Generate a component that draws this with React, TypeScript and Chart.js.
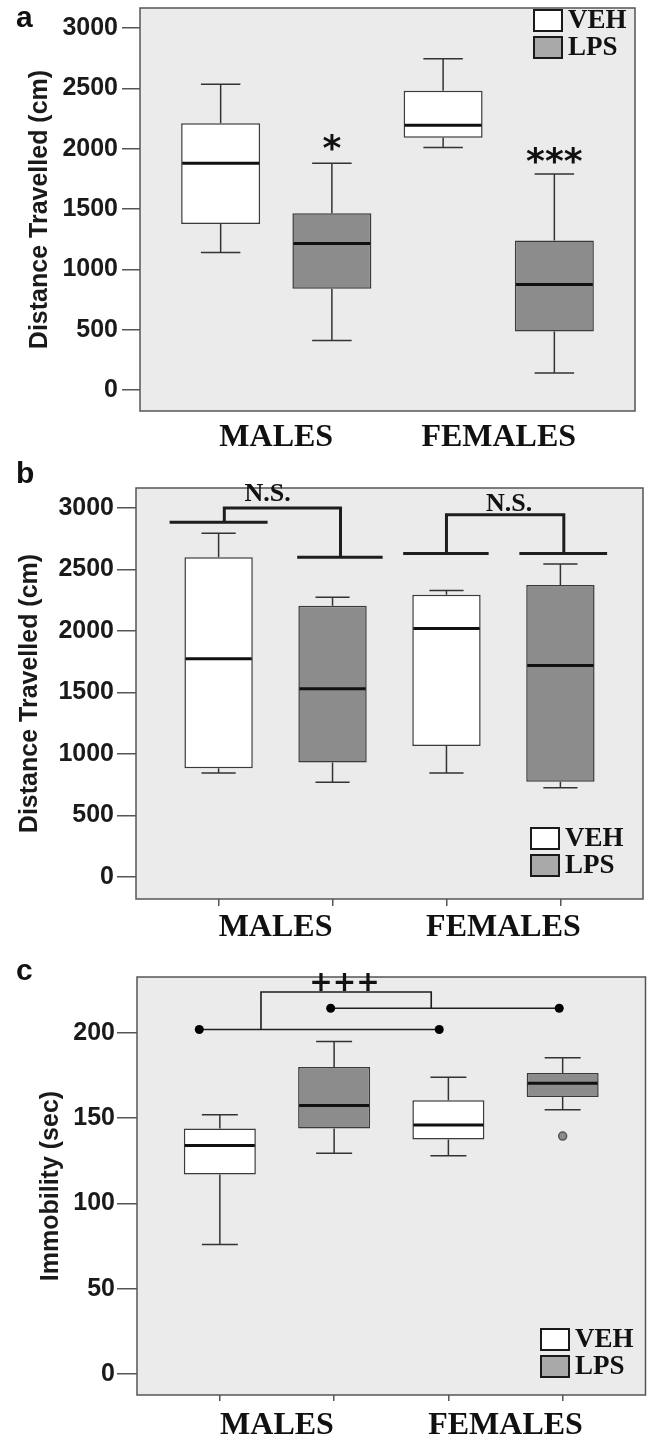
import React, { useEffect, useRef } from "react";
import { Chart, registerables } from "chart.js";

Chart.register(...registerables);

// ---------- shared categories ----------
const groups = ["MALES", "FEMALES"];
const seriesNames = ["VEH", "LPS"];

// ---------- panel a: distance travelled (cm) ----------
const aVehMin = [1140, 2010];
const aVehQ1 = [1375, 2090];
const aVehMedian = [1880, 2195];
const aVehQ3 = [2210, 2480];
const aVehMax = [2535, 2745];
const aLpsMin = [410, 140];
const aLpsQ1 = [840, 485];
const aLpsMedian = [1215, 875];
const aLpsQ3 = [1465, 1240];
const aLpsMax = [1880, 1790];
const aTicks = [0, 500, 1000, 1500, 2000, 2500, 3000];

// ---------- panel b: distance travelled (cm) ----------
const bVehMin = [845, 845];
const bVehQ1 = [885, 1065];
const bVehMedian = [1775, 2020];
const bVehQ3 = [2600, 2295];
const bVehMax = [2795, 2330];
const bLpsMin = [770, 725];
const bLpsQ1 = [930, 775];
const bLpsMedian = [1530, 1720];
const bLpsQ3 = [2205, 2375];
const bLpsMax = [2275, 2545];
const bTicks = [0, 500, 1000, 1500, 2000, 2500, 3000];

// ---------- panel c: immobility (sec) ----------
const cVehMin = [76, 128];
const cVehQ1 = [117, 137.5];
const cVehMedian = [134, 146];
const cVehQ3 = [144, 160.5];
const cVehMax = [152, 174];
const cLpsMin = [129.5, 155];
const cLpsQ1 = [144, 162.5];
const cLpsMedian = [157.5, 170.5];
const cLpsQ3 = [180, 176.5];
const cLpsMax = [195, 185.5];
const cLpsOutliers = [[], [139.5]];
const cTicks = [0, 50, 100, 150, 200];

// significance markers (x in box-slot units 1..4, y in data units)
const bBracketMales: [number, number][][] = [
  [[0.57, 2885], [1.43, 2885]],
  [[1.05, 2885], [1.05, 3000], [2.07, 3000], [2.07, 2600]],
  [[1.69, 2600], [2.44, 2600]],
];
const bBracketFemales: [number, number][][] = [
  [[2.62, 2630], [3.37, 2630]],
  [[3.0, 2630], [3.0, 2945], [4.03, 2945], [4.03, 2630]],
  [[3.64, 2630], [4.41, 2630]],
];
const cCompareVeh: [number, number][] = [[0.82, 202], [2.92, 202]];
const cCompareLps: [number, number][] = [[1.97, 214.5], [3.97, 214.5]];
const cBracket: [number, number][] = [[1.36, 202], [1.36, 224], [2.85, 224], [2.85, 214.5]];

type Stats = { min: number[]; q1: number[]; median: number[]; q3: number[]; max: number[] };
type Path = { pts: [number, number][]; width: number; dots: boolean };
type Note = { text: string; x: number; y: number; font: string };

interface PanelSpec {
  letter: string;
  letterBaseline: number;
  top: number;
  height: number;
  chartLeft: number;
  chartTopPad: number;
  rightPad: number;
  xTickLen: number;
  labelAxisHeight: number;
  labelPad: number;
  yTitle: string;
  titlePad: number;
  yTickLen: number;
  yTickPad: number;
  yMin: number;
  yMax: number;
  yTicks: number[];
  boxPct: number;
  veh: Stats;
  lps: Stats;
  lpsOutliers: number[][];
  paths: Path[];
  notes: Note[];
  legendX: number;
  legendY: number;
}

const SLOT_MIN = 0.275;
const SLOT_MAX = 4.725;
const slotOf = (g: number, s: number) => g * 2 + s + 1;

const starFont = 'bold 36px "DejaVu Sans"';
const nsFont = 'bold 26px "Liberation Serif"';
const plusFont = 'bold 28px "DejaVu Sans"';

const panels: PanelSpec[] = [
  {
    letter: "a", letterBaseline: 27, top: 0, height: 462,
    chartLeft: 140, chartTopPad: 8, rightPad: 16, xTickLen: 0, labelAxisHeight: 51, labelPad: 8,
    yTitle: "Distance Travelled (cm)", titlePad: 25, yTickLen: 18, yTickPad: 4,
    yMin: -174, yMax: 3166, yTicks: aTicks, boxPct: 0.71,
    veh: { min: aVehMin, q1: aVehQ1, median: aVehMedian, q3: aVehQ3, max: aVehMax },
    lps: { min: aLpsMin, q1: aLpsQ1, median: aLpsMedian, q3: aLpsQ3, max: aLpsMax },
    lpsOutliers: [[], []],
    paths: [],
    notes: [
      { text: "*", x: 2, y: 1985, font: starFont },
      { text: "***", x: 4, y: 1873, font: starFont },
    ],
    legendX: 534, legendY: 10,
  },
  {
    letter: "b", letterBaseline: 23, top: 460, height: 490,
    chartLeft: 136, chartTopPad: 28, rightPad: 8, xTickLen: 7, labelAxisHeight: 44, labelPad: 3,
    yTitle: "Distance Travelled (cm)", titlePad: 15, yTickLen: 19, yTickPad: 3,
    yMin: -179, yMax: 3163, yTicks: bTicks, boxPct: 0.6,
    veh: { min: bVehMin, q1: bVehQ1, median: bVehMedian, q3: bVehQ3, max: bVehMax },
    lps: { min: bLpsMin, q1: bLpsQ1, median: bLpsMedian, q3: bLpsQ3, max: bLpsMax },
    lpsOutliers: [[], []],
    paths: [...bBracketMales, ...bBracketFemales].map((pts) => ({ pts, width: 3, dots: false })),
    notes: [
      { text: "N.S.", x: 1.43, y: 3115, font: nsFont },
      { text: "N.S.", x: 3.55, y: 3030, font: nsFont },
    ],
    legendX: 531, legendY: 368,
  },
  {
    letter: "c", letterBaseline: 30, top: 950, height: 490,
    chartLeft: 137, chartTopPad: 27, rightPad: 5, xTickLen: 6, labelAxisHeight: 39, labelPad: 6,
    yTitle: "Immobility (sec)", titlePad: 36, yTickLen: 20, yTickPad: 2,
    yMin: -12.3, yMax: 232.8, yTicks: cTicks, boxPct: 0.63,
    veh: { min: cVehMin, q1: cVehQ1, median: cVehMedian, q3: cVehQ3, max: cVehMax },
    lps: { min: cLpsMin, q1: cLpsQ1, median: cLpsMedian, q3: cLpsQ3, max: cLpsMax },
    lpsOutliers: cLpsOutliers,
    paths: [
      { pts: cCompareVeh, width: 1.6, dots: true },
      { pts: cCompareLps, width: 1.6, dots: true },
      { pts: cBracket, width: 1.6, dots: false },
    ],
    notes: [{ text: "+++", x: 2.09, y: 229, font: plusFont }],
    legendX: 541, legendY: 379,
  },
];

const BOX_FILL = ["#ffffff", "#8c8c8c"];
const LEGEND_FILL = ["#ffffff", "#a9a9a9"];
const PLOT_BG = "#ebebeb";
const FRAME = "#555555";
const INK = "#1a1a1a";

function makePlugin(spec: PanelSpec) {
  return {
    id: "panelDecor",
    beforeDraw(chart: any) {
      const { ctx, chartArea: a } = chart;
      ctx.save();
      ctx.fillStyle = PLOT_BG;
      ctx.fillRect(a.left, a.top, a.right - a.left, a.bottom - a.top);
      ctx.restore();
    },
    afterDatasetsDraw(chart: any) {
      const { ctx, chartArea: a, scales } = chart;
      const ys = scales.y;
      const xs = scales.x;
      ctx.save();
      [spec.veh, spec.lps].forEach((st, d) => {
        const meta = chart.getDatasetMeta(d);
        meta.data.forEach((el: any, i: number) => {
          const cx = el.x;
          const w = el.width;
          const cap = w * 0.25;
          const pMin = ys.getPixelForValue(st.min[i]);
          const pQ1 = ys.getPixelForValue(st.q1[i]);
          const pMed = ys.getPixelForValue(st.median[i]);
          const pQ3 = ys.getPixelForValue(st.q3[i]);
          const pMax = ys.getPixelForValue(st.max[i]);
          ctx.strokeStyle = "#333333";
          ctx.lineWidth = 1.5;
          ctx.beginPath();
          ctx.moveTo(cx, pQ3);
          ctx.lineTo(cx, pMax);
          ctx.moveTo(cx - cap, pMax);
          ctx.lineTo(cx + cap, pMax);
          ctx.moveTo(cx, pQ1);
          ctx.lineTo(cx, pMin);
          ctx.moveTo(cx - cap, pMin);
          ctx.lineTo(cx + cap, pMin);
          ctx.stroke();
          ctx.strokeStyle = "#111111";
          ctx.lineWidth = 3;
          ctx.beginPath();
          ctx.moveTo(cx - w / 2 + 1, pMed);
          ctx.lineTo(cx + w / 2 - 1, pMed);
          ctx.stroke();
        });
      });
      // frame
      ctx.strokeStyle = FRAME;
      ctx.lineWidth = 1.5;
      ctx.strokeRect(a.left, a.top, a.right - a.left, a.bottom - a.top);
      // notes
      ctx.fillStyle = "#111111";
      ctx.textAlign = "center";
      ctx.textBaseline = "middle";
      spec.notes.forEach((n) => {
        ctx.font = n.font;
        ctx.fillText(n.text, xs.getPixelForValue(n.x), ys.getPixelForValue(n.y));
      });
      // legend
      seriesNames.forEach((name, i) => {
        const top = spec.legendY + i * 27;
        ctx.fillStyle = LEGEND_FILL[i];
        ctx.fillRect(spec.legendX, top, 28, 21);
        ctx.strokeStyle = "#1a1a1a";
        ctx.lineWidth = 2;
        ctx.strokeRect(spec.legendX, top, 28, 21);
        ctx.fillStyle = "#111111";
        ctx.font = 'bold 27px "Liberation Serif"';
        ctx.textAlign = "left";
        ctx.textBaseline = "middle";
        ctx.fillText(name, spec.legendX + 34, top + 11);
      });
      // panel letter
      ctx.font = 'bold 30px "Liberation Sans"';
      ctx.textAlign = "left";
      ctx.textBaseline = "alphabetic";
      ctx.fillStyle = "#111111";
      ctx.fillText(spec.letter, 16, spec.letterBaseline);
      ctx.restore();
    },
  };
}

function Panel({ spec }: { spec: PanelSpec }) {
  const ref = useRef<HTMLCanvasElement>(null);
  useEffect(() => {
    const canvas = ref.current!;
    const boxData = (st: Stats, s: number) =>
      groups.map((_, g) => ({ x: slotOf(g, s), y: [st.q1[g], st.q3[g]] }));
    const datasets: any[] = [
      {
        type: "bar", label: seriesNames[0], data: boxData(spec.veh, 0),
        backgroundColor: BOX_FILL[0], borderColor: "#3a3a3a", borderWidth: 1.5, borderSkipped: false,
        grouped: false, barPercentage: spec.boxPct, categoryPercentage: 1,
      },
      {
        type: "bar", label: seriesNames[1], data: boxData(spec.lps, 1),
        backgroundColor: BOX_FILL[1], borderColor: "#3a3a3a", borderWidth: 1.5, borderSkipped: false,
        grouped: false, barPercentage: spec.boxPct, categoryPercentage: 1,
      },
    ];
    const outPts: { x: number; y: number }[] = [];
    spec.lpsOutliers.forEach((vals, g) => vals.forEach((v) => outPts.push({ x: slotOf(g, 1), y: v })));
    if (outPts.length) {
      datasets.push({
        type: "scatter", label: "outliers", data: outPts, pointRadius: 4,
        pointBackgroundColor: "#8c8c8c", pointBorderColor: "#555555", pointBorderWidth: 1.5,
      });
    }
    spec.paths.forEach((p) => {
      datasets.push({
        type: "line", label: "marker", data: p.pts.map(([x, y]) => ({ x, y })),
        borderColor: "#1e1e1e", borderWidth: p.width, tension: 0, fill: false,
        pointRadius: p.dots ? 4.5 : 0, pointBackgroundColor: "#000000", pointBorderWidth: 0,
        borderJoinStyle: "miter", borderCapStyle: "butt", clip: false,
      });
    });

    const chart = new Chart(canvas, {
      type: "bar",
      data: { datasets },
      options: {
        responsive: false,
        animation: false,
        devicePixelRatio: 1,
        layout: { padding: { top: spec.chartTopPad, right: spec.rightPad, left: 0, bottom: 0 } },
        plugins: { legend: { display: false }, tooltip: { enabled: false } },
        scales: {
          x: {
            type: "linear", position: "bottom", weight: 0,
            min: SLOT_MIN, max: SLOT_MAX, offset: false,
            afterBuildTicks: (s: any) => { s.ticks = [1, 2, 3, 4].map((v) => ({ value: v })); },
            afterFit: (s: any) => { s.height = spec.xTickLen; s.paddingLeft = 0; s.paddingRight = 0; },
            ticks: { display: false },
            grid: {
              display: spec.xTickLen > 0, drawOnChartArea: false, drawTicks: true,
              tickLength: spec.xTickLen, color: FRAME, lineWidth: 1.5, offset: false,
            },
            border: { display: false },
          },
          groups: {
            type: "linear", position: "bottom", weight: 1,
            min: SLOT_MIN, max: SLOT_MAX, offset: false,
            afterBuildTicks: (s: any) => { s.ticks = [1.5, 3.5].map((v) => ({ value: v })); },
            afterFit: (s: any) => { s.height = spec.labelAxisHeight; s.paddingLeft = 0; s.paddingRight = 0; },
            ticks: {
              callback: (_v: any, i: number) => groups[i],
              autoSkip: false, maxRotation: 0, minRotation: 0, padding: spec.labelPad,
              color: "#111111", font: { family: '"Liberation Serif"', weight: "bold", size: 32 },
            },
            grid: { display: false, drawTicks: false },
            border: { display: false },
          },
          y: {
            type: "linear", min: spec.yMin, max: spec.yMax,
            afterBuildTicks: (s: any) => { s.ticks = spec.yTicks.map((v) => ({ value: v })); },
            afterFit: (s: any) => { s.width = spec.chartLeft; s.paddingTop = 0; s.paddingBottom = 0; },
            ticks: {
              callback: (v: any) => String(v),
              padding: spec.yTickPad, color: INK,
              font: { family: '"Liberation Sans"', weight: "bold", size: 25 },
            },
            grid: {
              display: true, drawOnChartArea: false, drawTicks: true,
              tickLength: spec.yTickLen, color: FRAME, lineWidth: 1.5,
            },
            border: { display: false },
            title: {
              display: true, text: spec.yTitle, color: INK,
              font: { family: '"Liberation Sans"', weight: "bold", size: 25 },
              padding: { top: spec.titlePad, bottom: 0 },
            },
          },
        },
      } as any,
      plugins: [makePlugin(spec)],
    });
    return () => chart.destroy();
  }, [spec]);
  return (
    <div style={{ position: "absolute", left: 0, top: spec.top, width: 651, height: spec.height }}>
      <canvas ref={ref} width={651} height={spec.height} style={{ display: "block", width: 651, height: spec.height }} />
    </div>
  );
}

export default function App() {
  useEffect(() => {
    document.body.style.margin = "0";
    document.body.style.background = "#ffffff";
  }, []);
  return (
    <div style={{ position: "absolute", left: 0, top: 0, width: 651, height: 1440, background: "#ffffff", overflow: "hidden" }}>
      {panels.map((p) => (
        <Panel key={p.letter} spec={p} />
      ))}
    </div>
  );
}
